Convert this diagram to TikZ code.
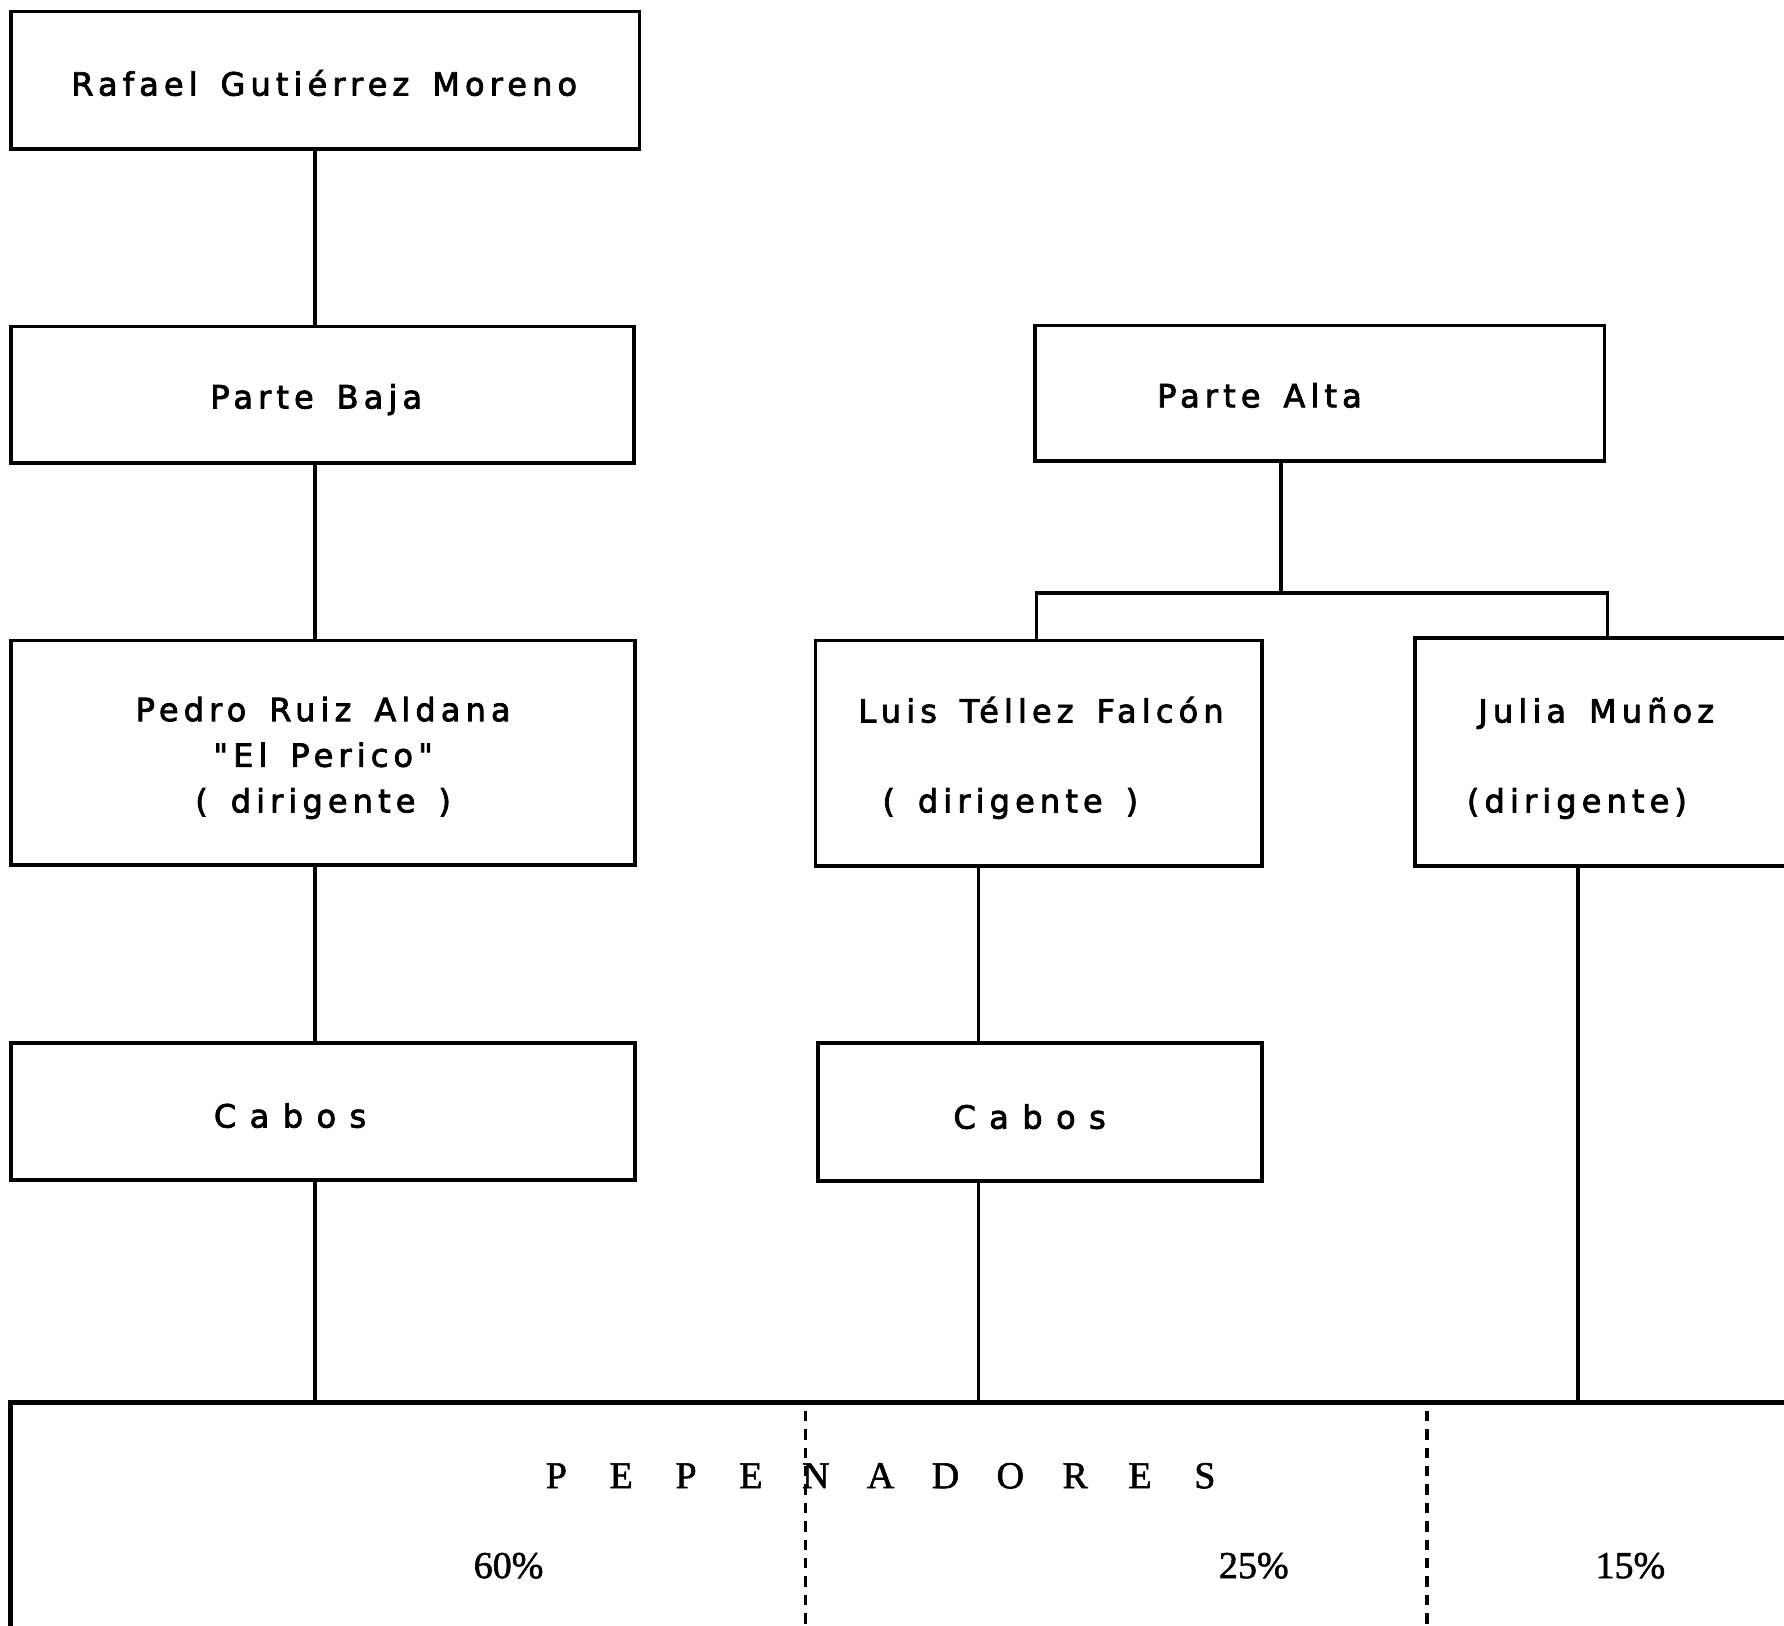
\documentclass[tikz,border=0pt]{standalone}
\usepackage{fontspec}
\newfontfamily\typer{DejaVu Sans}[LetterSpace=16,WordSpace=1.5,FakeBold=2.5]
\newfontfamily\pica{Liberation Serif}[FakeBold=1.5]
\begin{document}
\begin{tikzpicture}[x=0.01cm,y=-0.01cm,line width=0.9pt,
	box/.style args={#1x#2}{draw,inner sep=0,minimum width=#1cm,minimum height=#2cm},
	txt/.style={anchor=base,inner sep=0,align=center,font=\typer\fontsize{8}{11.4}\selectfont},
	wide/.style={font=\typer\fontsize{8}{11.4}\selectfont\addfontfeature{LetterSpace=42}},
	pct/.style={anchor=base,inner sep=0,font=\pica\fontsize{9.5}{10}\selectfont}]
\useasboundingbox (0,0) rectangle (1568,1429);
% boxes
\node[box=5.52x1.21] (rafael) at (286,70.5) {};
\node[box=5.47x1.20] (baja) at (283.5,347) {};
\node[box=5.48x1.97] (pedro) at (284,661.5) {};
\node[box=5.48x1.20] (cabosa) at (284,977) {};
\node[box=5.00x1.19] (alta) at (1160,345.5) {};
\node[box=3.92x1.98] (luis) at (913,662) {};
\node[box=3.90x1.21] (cabosb) at (914,977.5) {};
\node[box=3.56x2.00] (julia) at (1422,661) {};
\node[box=15.90x2.27,line width=1.2pt] (pepe) at (805,1346.5) {};
% texts
\node[txt] (trafael) at (285,84) {Rafael Gutiérrez Moreno};
\node[txt] (tbaja) at (278,359) {Parte Baja};
\node[txt] (tpedro) at (284,714) {Pedro Ruiz Aldana\\"El Perico"\\( dirigente )};
\node[txt,wide] (tcabosa) at (255,991) {Cabos};
\node[txt] (talta) at (1107,358) {Parte Alta};
\node[txt] (tluis) at (915,635) {Luis Téllez Falcón};
\node[txt] (tluisd) at (888,714) {( dirigente )};
\node[txt,wide] (tcabosb) at (905,992) {Cabos};
\node[txt] (tjulia) at (1403,635) {Julia Muñoz};
\node[txt] (tjuliad) at (1386,714) {(dirigente)};
\foreach \l [count=\i] in {P,E,P,E,N,A,D,O,R,E,S}
	\node[pct] (pe\i) at ({432+\i*57},1308) {\l};
\node[pct] (p60) at (447,1387) {60\%};
\node[pct] (p25) at (1102,1387) {25\%};
\node[pct] (p15) at (1433,1387) {15\%};
% connectors
\coordinate (spine) at (277,0);
\draw (rafael.south -| spine) -- (baja.north -| spine);
\draw (baja.south -| spine) -- (pedro.north -| spine);
\draw (pedro.south -| spine) -- (cabosa.north -| spine);
\draw (cabosa.south -| spine) -- (pepe.north -| spine);
\coordinate (fork) at (1126,521);
\coordinate (forkl) at (911,521);
\coordinate (forkr) at (1413,521);
\draw (alta.south -| fork) -- (fork);
\draw (luis.north -| forkl) |- (forkr) -- (julia.north -| forkr);
\coordinate (mid) at (860,0);
\draw (luis.south -| mid) -- (cabosb.north -| mid);
\draw (cabosb.south -| mid) -- (pepe.north -| mid);
\coordinate (right) at (1387,0);
\draw (julia.south -| right) -- (pepe.north -| right);
\coordinate (cut1) at (708,1240);
\coordinate (cut2) at (1254,1240);
\draw[dash pattern=on 2.6pt off 2pt] (cut1) -- (cut1 |- pepe.south);
\draw[dash pattern=on 2.6pt off 2pt] (cut2) -- (cut2 |- pepe.south);
\end{tikzpicture}
\end{document}
